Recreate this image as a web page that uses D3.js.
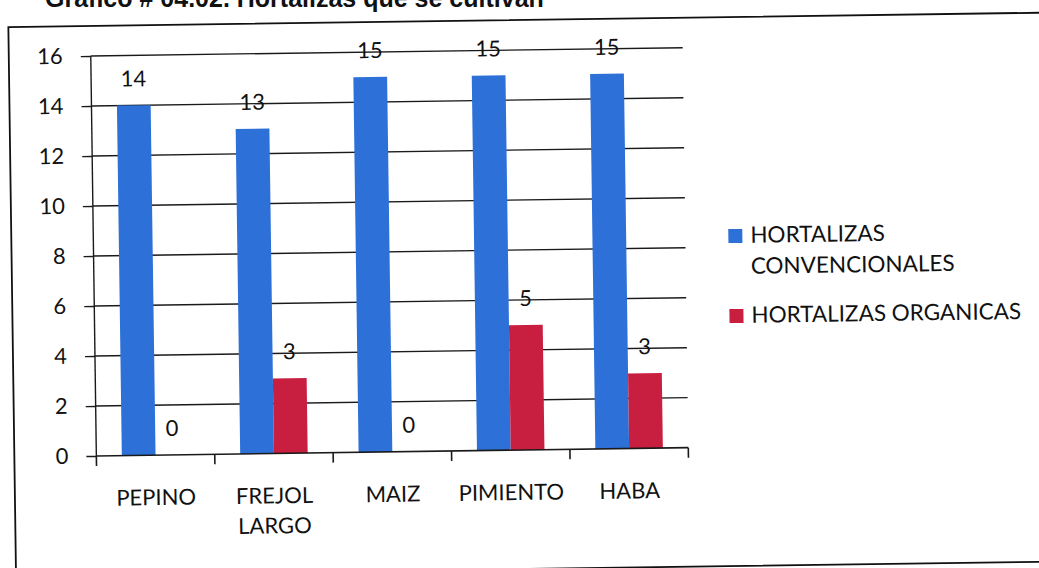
<!DOCTYPE html>
<html>
<head>
	<meta charset="utf-8">
	<title>Hortalizas</title>
	<script src="https://cdnjs.cloudflare.com/ajax/libs/d3/7.8.5/d3.min.js"></script>
	<style>
		body { margin: 0; background: white; }
		text { font-family: Lato, "Open Sans", sans-serif; fill: #111; }
		.title { font-family: "Liberation Sans", Arial, sans-serif; font-weight: bold; font-size: 25px; }
		.tick text { font-size: 22px; }
		.lbl { font-size: 22px; }
		.leg { font-size: 22.5px; }
	</style>
</head>
<body>
	<svg id="main" width="1039" height="568"></svg>

	<script>
		// values
		var categories = ['PEPINO', 'FREJOL LARGO', 'MAIZ', 'PIMIENTO', 'HABA'];
		var seriesNames = ['HORTALIZAS CONVENCIONALES', 'HORTALIZAS ORGANICAS'];
		var convencionales = [14, 13, 15, 15, 15];
		var organicas = [0, 3, 0, 5, 3];
		var yTicks = [0, 2, 4, 6, 8, 10, 12, 14, 16];
		var colors = ['#2c70d8', '#c81f41'];

		var rows = categories.map(function(c, i) {
			return { cat: c, values: [convencionales[i], organicas[i]] };
		});

		var svg = d3.select('#main');

		// title is cut by the top edge of the scan
		svg.append('text').attr('class', 'title')
			.attr('x', 45).attr('y', 7)
			.text('Gráfico # 04.02. Hortalizas que se cultivan');

		// the scan is slightly tilted
		var root = svg.append('g').attr('transform', 'rotate(-0.8, 520, 284)');

		// chart frame
		root.append('rect')
			.attr('x', 12).attr('y', 20)
			.attr('width', 1100).attr('height', 549)
			.attr('fill', 'none').attr('stroke', '#111').attr('stroke-width', 1.8);

		var plotLeft = 94, plotRight = 686, plotTop = 50, plotBottom = 450;

		var x = d3.scaleBand().domain(categories).range([plotLeft, plotRight])
			.paddingInner(0.43).paddingOuter(0.215);
		var xSub = d3.scaleBand().domain([0, 1]).range([0, x.bandwidth()]);
		var y = d3.scaleLinear().domain([0, 16]).range([plotBottom, plotTop]);

		// gridlines
		root.append('g').selectAll('line').data(yTicks.slice(1)).enter().append('line')
			.attr('x1', plotLeft).attr('x2', plotRight)
			.attr('y1', function(d) { return y(d); })
			.attr('y2', function(d) { return y(d); })
			.attr('stroke', '#1a1a1a').attr('stroke-width', 1.4);

		// y axis
		var yAxis = root.append('g').attr('transform', 'translate(' + plotLeft + ',0)')
			.call(d3.axisLeft(y).tickValues(yTicks).tickSize(10).tickPadding(18));
		yAxis.selectAll('line, path').attr('stroke', '#1a1a1a').attr('stroke-width', 1.4);
		yAxis.select('.domain').attr('d', 'M0,' + plotBottom + 'V' + plotTop);
		yAxis.selectAll('text').attr('fill', '#111').style('font-family', 'Lato, sans-serif');

		// bars
		var groups = root.append('g').selectAll('g').data(rows).enter().append('g')
			.attr('transform', function(d) { return 'translate(' + x(d.cat) + ',0)'; });

		groups.selectAll('rect').data(function(d) { return d.values; }).enter().append('rect')
			.attr('x', function(d, i) { return xSub(i); })
			.attr('width', xSub.bandwidth())
			.attr('y', function(d) { return y(d); })
			.attr('height', function(d) { return plotBottom - y(d); })
			.attr('fill', function(d, i) { return colors[i]; });

		groups.selectAll('text').data(function(d) { return d.values; }).enter().append('text')
			.attr('class', 'lbl')
			.attr('text-anchor', 'middle')
			.attr('x', function(d, i) { return xSub(i) + xSub.bandwidth() / 2; })
			.attr('y', function(d) { return y(d) - 19; })
			.text(function(d) { return d; });

		// x axis
		var step = x.step();
		var bounds = d3.range(categories.length + 1).map(function(i) { return plotLeft + i * step; });
		root.append('line')
			.attr('x1', plotLeft).attr('x2', plotRight).attr('y1', plotBottom).attr('y2', plotBottom)
			.attr('stroke', '#1a1a1a').attr('stroke-width', 1.6);
		root.append('g').selectAll('line').data(bounds).enter().append('line')
			.attr('x1', function(d) { return d; }).attr('x2', function(d) { return d; })
			.attr('y1', plotBottom).attr('y2', plotBottom + 10)
			.attr('stroke', '#1a1a1a').attr('stroke-width', 1.6);

		root.append('g').selectAll('text').data(categories).enter().append('text')
			.attr('class', 'lbl')
			.attr('text-anchor', 'middle')
			.attr('x', function(d) { return x(d) + x.bandwidth() / 2; })
			.attr('y', 500)
			.each(function(d) {
				var words = d.split(' ');
				var t = d3.select(this);
				words.forEach(function(w, i) {
					t.append('tspan').attr('x', x(d) + x.bandwidth() / 2)
						.attr('dy', i === 0 ? 0 : 30).text(w);
				});
			});

		// legend
		var legend = root.append('g');
		var legLines = [['HORTALIZAS', 'CONVENCIONALES'], ['HORTALIZAS ORGANICAS']];
		var legY = [246, 326];
		legLines.forEach(function(lines, i) {
			legend.append('rect')
				.attr('x', 729).attr('y', legY[i] - 14)
				.attr('width', 14).attr('height', 14)
				.attr('fill', colors[i]);
			var t = legend.append('text').attr('class', 'leg').attr('x', 751).attr('y', legY[i]);
			lines.forEach(function(w, j) {
				t.append('tspan').attr('x', 751).attr('dy', j === 0 ? 0 : 31).text(w);
			});
		});
	</script>
</body>
</html>
